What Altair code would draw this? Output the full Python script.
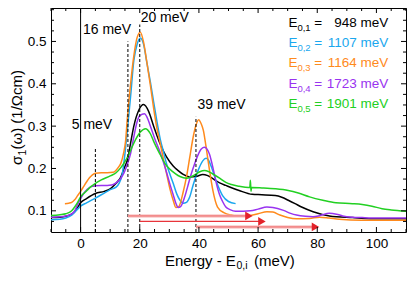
import altair as alt
import pandas as pd

# ---------------- data ----------------
series = ["948", "1107", "1164", "1723", "1901"]
sub_labels = ["0,1", "0,2", "0,3", "0,4", "0,5"]
value_labels = ["948 meV", "1107 meV", "1164 meV", "1723 meV", "1901 meV"]
colors = ["#000000", "#1aa7ee", "#ff8a1c", "#9933f0", "#22d022"]

black_x = [-10, -7, -5, -3, -2, -1, 0, 2, 5, 8, 10, 12, 13.6, 14.7, 16, 16.9, 18, 19.7, 21.3, 23, 24.7,
           26.9, 29, 31.3, 33, 34.7, 36.9, 39, 41.3, 43, 44.7, 47, 49.1, 53.6, 58, 61.3, 65.8, 68, 70.2,
           72.5, 74.7, 78.6, 84.1, 91.9, 100.8, 110]
black_y = [0.084, 0.085, 0.087, 0.092, 0.098, 0.108, 0.119, 0.129, 0.141, 0.146, 0.152, 0.165, 0.180, 0.200,
           0.225, 0.260, 0.300, 0.338, 0.351, 0.335, 0.300, 0.258, 0.228, 0.206, 0.195, 0.186, 0.180, 0.181,
           0.186, 0.183, 0.176, 0.166, 0.160, 0.148, 0.139, 0.138, 0.136, 0.132, 0.125, 0.117, 0.109, 0.098,
           0.088, 0.084, 0.081, 0.081]

blue_x = [-10, -7, -5, -3, -1, 0, 2, 5, 8, 10, 12, 13, 14.1, 15, 15.8, 16.9, 18, 19.1, 20.2, 21.3, 22.4,
          23.6, 24.7, 25.8, 26.9, 28, 29.1, 31.3, 32.5, 33.6, 34.7, 35.8, 37, 38, 39.7, 41.3, 42.4, 43.2,
          44.1, 45.8, 48, 50, 52.4]
blue_y = [0.079, 0.080, 0.083, 0.090, 0.104, 0.111, 0.119, 0.130, 0.142, 0.150, 0.156, 0.165, 0.187, 0.235,
          0.290, 0.370, 0.455, 0.493, 0.508, 0.493, 0.450, 0.404, 0.357, 0.311, 0.270, 0.240, 0.210, 0.165,
          0.140, 0.125, 0.118, 0.120, 0.135, 0.160, 0.195, 0.218, 0.224, 0.220, 0.206, 0.171, 0.136, 0.122,
          0.117]

orange_x = [-5.3, -4, -3, -2, -1, 0, 1, 2, 3, 4, 5, 7, 9, 11, 12, 13, 13.6, 14.5, 15.2, 15.8, 16.9, 18,
            19.1, 20.2, 21.3, 22.4, 23.6, 24.7, 25.8, 26.9, 28, 29.1, 30.2, 31.3, 32.2, 33.2, 34.7, 35.8,
            36.9, 38, 39, 39.9, 40.8, 41.5, 42.4, 43.6, 44.7, 46.3, 48.6, 51, 53, 55, 57.4, 60, 63, 65,
            67.4, 70, 73, 77.4, 80.8, 84, 87.4, 95, 110]
orange_y = [0.117, 0.118, 0.120, 0.126, 0.136, 0.146, 0.157, 0.168, 0.178, 0.185, 0.189, 0.190, 0.190,
            0.191, 0.196, 0.205, 0.212, 0.235, 0.264, 0.318, 0.400, 0.466, 0.509, 0.522, 0.498, 0.451,
            0.396, 0.342, 0.295, 0.260, 0.222, 0.187, 0.152, 0.125, 0.108, 0.110, 0.145, 0.180, 0.226,
            0.272, 0.302, 0.315, 0.305, 0.290, 0.252, 0.195, 0.149, 0.109, 0.095, 0.090, 0.087, 0.087,
            0.089, 0.093, 0.098, 0.097, 0.090, 0.084, 0.081, 0.082, 0.085, 0.083, 0.080, 0.078, 0.078]

purple_x = [-10, -7, -5, -3, -2, -1, 0, 1.5, 3, 4, 5, 7, 9, 10.5, 12, 13.6, 14.7, 15.8, 16.9, 18, 19.1,
            20, 21.6, 22.4, 23.6, 25.2, 26.9, 28, 29.1, 30.2, 31.3, 32.2, 33, 33.8, 35.2, 36.3, 37.4,
            38.5, 39.7, 40.8, 41.9, 42.8, 43.6, 44.4, 45.2, 46, 46.9, 48, 49.1, 50.5, 52.4, 55, 57.4, 60,
            63, 65, 68.6, 71, 73, 76, 78.6, 81, 84.1, 86.5, 88.6, 92, 95.2, 100, 110]
purple_y = [0.085, 0.086, 0.088, 0.093, 0.100, 0.115, 0.129, 0.145, 0.155, 0.158, 0.159, 0.160, 0.160,
            0.161, 0.166, 0.177, 0.190, 0.210, 0.235, 0.275, 0.310, 0.325, 0.329, 0.322, 0.300, 0.268,
            0.238, 0.215, 0.190, 0.163, 0.138, 0.118, 0.108, 0.110, 0.133, 0.160, 0.187, 0.210, 0.232,
            0.246, 0.250, 0.245, 0.233, 0.212, 0.187, 0.162, 0.140, 0.122, 0.109, 0.103, 0.099, 0.099,
            0.100, 0.104, 0.109, 0.108, 0.101, 0.094, 0.090, 0.087, 0.086, 0.089, 0.094, 0.092, 0.088,
            0.085, 0.084, 0.083, 0.083]

green_x = [-10, -7, -5, -3, -2, -1, 0, 2, 3.5, 5, 7, 10.2, 12, 13.6, 14.7, 16.3, 18, 20.2, 21.9, 23.6,
           24.7, 26.9, 28.5, 30.2, 32, 33.6, 35.8, 37.5, 39.1, 40.5, 41.9, 43.2, 44.7, 47, 49.1, 51, 53.6,
           56.8, 57.2, 57.4, 57.6, 57.8, 61.3, 65.8, 70.2, 73.6, 77.4, 81.9, 86.3, 91.9, 95.2, 98.5,
           101.9, 105, 110]
green_y = [0.089, 0.091, 0.093, 0.100, 0.109, 0.120, 0.133, 0.147, 0.157, 0.165, 0.173, 0.183, 0.190,
           0.202, 0.213, 0.233, 0.260, 0.286, 0.294, 0.282, 0.264, 0.233, 0.212, 0.198, 0.188, 0.181,
           0.177, 0.181, 0.187, 0.193, 0.195, 0.193, 0.187, 0.177, 0.167, 0.162, 0.158, 0.155, 0.155,
           0.172, 0.146, 0.155, 0.154, 0.152, 0.148, 0.142, 0.133, 0.125, 0.119, 0.117, 0.115, 0.111,
           0.105, 0.102, 0.099]

curve_x = [black_x, blue_x, orange_x, purple_x, green_x]
curve_y = [black_y, blue_y, orange_y, purple_y, green_y]

dash_x = [5, 16, 20, 39]
dash_top = [0.25, 0.50, 0.54, 0.322]

ann_text = ["5 meV", "16 meV", "20 meV", "39 meV"]
ann_x = [-3.0, 0.8, 20.3, 39.5]
ann_y = [0.302, 0.528, 0.556, 0.349]

arrow_start = [16, 20, 39]
arrow_tip = [58.3, 62.7, 80.8]
arrow_y = [0.088, 0.075, 0.062]
arrow_kind = ["light", "dark", "light"]

legend_y = [0.544, 0.496, 0.448, 0.400, 0.352]

XMIN, XMAX = -10, 110
YMIN, YMAX = 0.05, 0.579
W, H = 355, 224

x_major = [0, 20, 40, 60, 80, 100]
x_minor = [v for v in range(-10, 111, 5) if v not in x_major]
y_major = [0.1, 0.2, 0.3, 0.4, 0.5]
y_minor = [round(0.075 + 0.025 * i, 3) for i in range(21)]
y_minor = [v for v in y_minor if all(abs(v - m) > 1e-6 for m in y_major) and v < YMAX]

# ---------------- frames ----------------
rows = []
for s, xs, ys in zip(series, curve_x, curve_y):
    for xv, yv in zip(xs, ys):
        rows.append({"s": s, "x": xv, "y": yv})
df = pd.DataFrame(rows)

xs_ = alt.Scale(domain=[XMIN, XMAX], nice=False, zero=False)
ys_ = alt.Scale(domain=[YMIN, YMAX], nice=False, zero=False)
cs_ = alt.Scale(domain=series, range=colors)
xax = alt.Axis(values=x_major, title=None, labelFontSize=13.5, labelPadding=4)
yax = alt.Axis(values=y_major, title=None, format=".1f", labelFontSize=13.5, labelPadding=5)


def X(f):
    return alt.X(f, scale=xs_, axis=xax)


def Y(f):
    return alt.Y(f, scale=ys_, axis=yax)


lines = alt.Chart(df).mark_line(strokeWidth=1.5, interpolate="monotone").encode(
    x=X("x:Q"), y=Y("y:Q"),
    color=alt.Color("s:N", scale=cs_, legend=None),
    order=alt.Order("x:Q"),
)

dash_df = pd.DataFrame({"x": dash_x, "y1": [YMIN] * len(dash_x), "y2": dash_top})
dashes = alt.Chart(dash_df).mark_rule(strokeDash=[3, 2], color="black", strokeWidth=1).encode(
    x=X("x:Q"), y=Y("y1:Q"), y2="y2:Q")

zero_df = pd.DataFrame({"x": [0], "y1": [YMIN], "y2": [YMAX]})
zero_line = alt.Chart(zero_df).mark_rule(color="black", strokeWidth=1).encode(
    x=X("x:Q"), y=Y("y1:Q"), y2="y2:Q")

arr_df = pd.DataFrame({"x1": arrow_start, "x2": [t - 1.5 for t in arrow_tip], "xh": [t - 1.4 for t in arrow_tip],
                       "y": arrow_y, "k": arrow_kind})
light = arr_df[arr_df.k == "light"]
dark = arr_df[arr_df.k == "dark"]
arr_light_wide = alt.Chart(light).mark_rule(color="#f7b0b0", strokeWidth=3).encode(
    x=X("x1:Q"), x2="x2:Q", y=Y("y:Q"))
arr_light_core = alt.Chart(light).mark_rule(color="#ee7474", strokeWidth=1).encode(
    x=X("x1:Q"), x2="x2:Q", y=Y("y:Q"))
arr_dark = alt.Chart(dark).mark_rule(color="#e8343a", strokeWidth=1.3).encode(
    x=X("x1:Q"), x2="x2:Q", y=Y("y:Q"))
heads = alt.Chart(arr_df).mark_point(shape="triangle-right", filled=True, size=75, color="#e3222a",
                                     opacity=1).encode(x=X("xh:Q"), y=Y("y:Q"))

ann_df = pd.DataFrame({"t": ann_text, "x": ann_x, "y": ann_y})
ann = alt.Chart(ann_df).mark_text(align="left", baseline="middle", fontSize=14, color="black").encode(
    x=X("x:Q"), y=Y("y:Q"), text="t:N")

leg_df = pd.DataFrame({"s": series, "sub": sub_labels, "val": value_labels, "y": legend_y,
                       "xe": [70.3] * 5, "xs": [73.3] * 5, "xq": [79.0] * 5, "xv": [104.0] * 5,
                       "e": ["E"] * 5, "eq": ["="] * 5})
lc = alt.Color("s:N", scale=cs_, legend=None)
leg_e = alt.Chart(leg_df).mark_text(align="left", baseline="middle", fontSize=13.5).encode(
    x=X("xe:Q"), y=Y("y:Q"), text="e:N", color=lc)
leg_sub = alt.Chart(leg_df).mark_text(align="left", baseline="middle", fontSize=9.5, dy=5).encode(
    x=X("xs:Q"), y=Y("y:Q"), text="sub:N", color=lc)
leg_eq = alt.Chart(leg_df).mark_text(align="left", baseline="middle", fontSize=13.5).encode(
    x=X("xq:Q"), y=Y("y:Q"), text="eq:N", color=lc)
leg_val = alt.Chart(leg_df).mark_text(align="right", baseline="middle", fontSize=13.5).encode(
    x=X("xv:Q"), y=Y("y:Q"), text="val:N", color=lc)


# inward ticks on all four sides
def xticks(vals, length):
    d = pd.DataFrame({"v": vals})
    b = alt.Chart(d).mark_rule(color="black", strokeWidth=1).encode(
        x=X("v:Q"), y=alt.value(H), y2=alt.value(H - length))
    t = alt.Chart(d).mark_rule(color="black", strokeWidth=1).encode(
        x=X("v:Q"), y=alt.value(0), y2=alt.value(length))
    return [b, t]


def yticks(vals, length):
    d = pd.DataFrame({"v": vals})
    l = alt.Chart(d).mark_rule(color="black", strokeWidth=1).encode(
        y=Y("v:Q"), x=alt.value(0), x2=alt.value(length))
    r = alt.Chart(d).mark_rule(color="black", strokeWidth=1).encode(
        y=Y("v:Q"), x=alt.value(W), x2=alt.value(W - length))
    return [l, r]


ticks = xticks(x_major, 5) + xticks(x_minor, 3) + yticks(y_major, 5) + yticks(y_minor, 3)

# axis titles with subscripts
one = pd.DataFrame({"a": [0]})


def txt(s, x, y, size, angle=0):
    kw = dict(align="left", baseline="alphabetic", fontSize=size, color="black", text=s)
    if angle:
        kw["angle"] = angle
    return alt.Chart(one).mark_text(**kw).encode(x=alt.value(x), y=alt.value(y))


xt = [txt("Energy - E", 114, 257.5, 15), txt("0,i", 185.5, 261, 10.5), txt("(meV)", 203, 257.5, 15)]
yt = [txt("\u03c3", -29, 157, 15, 270), txt("1", -25.5, 147.5, 10.5, 270),
      txt("(\u03c9) (1/\u03a9cm)", -29, 141.5, 15, 270)]

chart = alt.layer(lines, dashes, zero_line, arr_light_wide, arr_light_core, arr_dark, heads, ann,
                  leg_e, leg_sub, leg_eq, leg_val, *ticks, *xt, *yt).properties(
    width=W, height=H,
    autosize=alt.AutoSizeParams(type="none"),
    padding={"left": 43, "top": 0, "right": 1, "bottom": 41},
).configure(font="Liberation Sans").configure_view(
    stroke="black", strokeWidth=1
).configure_axis(
    ticks=False, tickSize=0, domain=False, grid=False, labelColor="black",
    labelFont="Liberation Sans", labelFontSize=13.5
)

chart.save("out.html", embed_options={"renderer": "svg", "actions": False})
